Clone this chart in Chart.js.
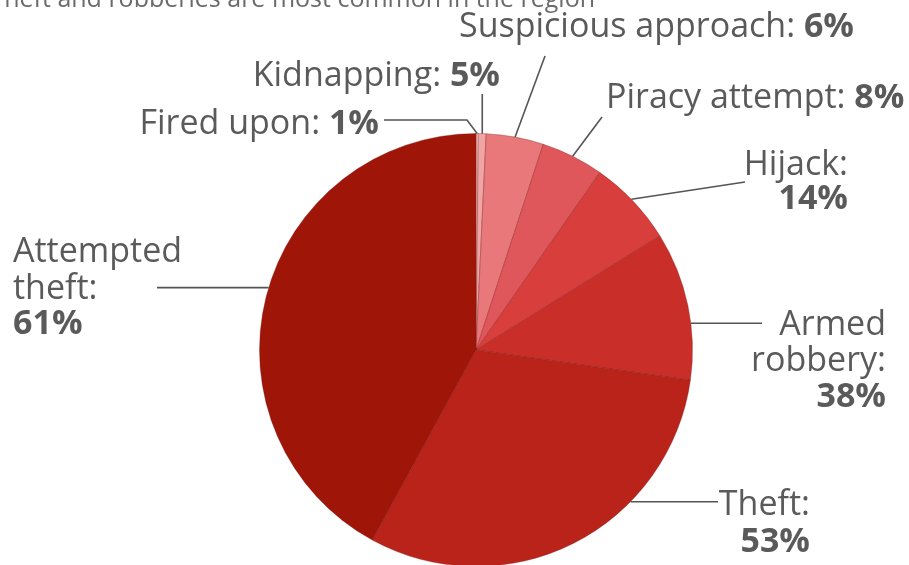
<!DOCTYPE html>
<html>
<head>
<meta charset="utf-8">
<script src="https://cdn.jsdelivr.net/npm/chart.js@4/dist/chart.umd.min.js"></script>
<style>
  html, body { margin: 0; padding: 0; background: #ffffff; overflow: hidden; }
  #wrap { position: relative; width: 909px; height: 565px; overflow: hidden; }
  canvas { display: block; }
</style>
</head>
<body>
<div id="wrap"><canvas id="c" width="909" height="620"></canvas></div>
<script>
// ---- data ----
const titleText = 'Theft and robberies are most common in the region';
const categories = ['Fired upon', 'Kidnapping', 'Suspicious approach', 'Piracy attempt',
                    'Hijack', 'Armed robbery', 'Theft', 'Attempted theft'];
// printed percentages on the labels
const labelPercents = [1, 5, 6, 8, 14, 38, 53, 61];
// share of the circle each slice occupies in the picture (%)
const sliceShares = [0.17, 0.58, 4.28, 4.67, 6.47, 11.06, 30.72, 42.05];
const sliceColors = ['#f5c6c4', '#f0a4a4', '#e87879', '#e0575b', '#d83e3c', '#c92f28', '#b9231a', '#9f1608'];

// ---- label layout (styles / positions) ----
const FONT = '"Open Sans", "Noto Sans", sans-serif';
const FS = 34;
const labelLayout = [
  { wrap: false, align: 'right', x: 379, y: [134], frac: 0.5, path: [[467, 120], [384, 120]] },
  { wrap: false, align: 'right', x: 500, y: [86], frac: 0.5, vertTo: 94 },
  { wrap: false, align: 'left', x: 459, y: [37], frac: 0.5, path: [[545, 56]] },
  { wrap: false, align: 'left', x: 606, y: [108], frac: 0.5, path: [[602, 117]] },
  { wrap: true, align: 'right', x: 848, y: [175, 209], frac: 0.47, path: [[745, 182]] },
  { wrap: true, align: 'right', x: 886, y: [335, 371, 407], frac: 0.62, horizTo: 762 },
  { wrap: true, align: 'right', x: 810, y: [515, 552], frac: 0.33, horizTo: 718 },
  { wrap: true, align: 'left', x: 13, y: [262, 299, 334], frac: 0.516, horizTo: 157 }
];

function buildLines(i) {
  const name = categories[i];
  const pct = labelPercents[i] + '%';
  if (!labelLayout[i].wrap) return [[{ t: name + ': ', b: false }, { t: pct, b: true }]];
  const words = name.split(' ');
  const lines = words.map((w, k) => [{ t: k === words.length - 1 ? w + ':' : w, b: false }]);
  lines.push([{ t: pct, b: true }]);
  return lines;
}

const labelPlugin = {
  id: 'pieLabels',
  afterDraw(chart) {
    const ctx = chart.ctx;
    const meta = chart.getDatasetMeta(0);
    ctx.save();
    // title (partially cut off at the top of the picture)
    ctx.font = '25px ' + FONT;
    ctx.fillStyle = '#6b6b6b';
    ctx.textAlign = 'right';
    ctx.textBaseline = 'alphabetic';
    ctx.fillText(titleText, 595, 7);

    meta.data.forEach((arc, i) => {
      const L = labelLayout[i];
      const p = arc.getProps(['x', 'y', 'startAngle', 'endAngle', 'outerRadius'], true);
      const a = p.startAngle + (p.endAngle - p.startAngle) * L.frac;
      const ex = p.x + Math.cos(a) * p.outerRadius;
      const ey = p.y + Math.sin(a) * p.outerRadius;
      ctx.beginPath();
      ctx.strokeStyle = '#555555';
      ctx.lineWidth = 1.6;
      ctx.moveTo(ex, ey);
      if (L.path) L.path.forEach(pt => ctx.lineTo(pt[0], pt[1]));
      if (L.horizTo !== undefined) ctx.lineTo(L.horizTo, ey);
      if (L.vertTo !== undefined) ctx.lineTo(ex, L.vertTo);
      ctx.stroke();

      const lines = buildLines(i);
      ctx.fillStyle = '#5a5a5a';
      ctx.textAlign = 'left';
      lines.forEach((parts, k) => {
        let w = 0;
        parts.forEach(pt => { ctx.font = (pt.b ? '700 ' : '400 ') + FS + 'px ' + FONT; w += ctx.measureText(pt.t).width; });
        let x = L.align === 'right' ? L.x - w : L.x;
        parts.forEach(pt => {
          ctx.font = (pt.b ? '700 ' : '400 ') + FS + 'px ' + FONT;
          ctx.fillText(pt.t, x, L.y[k]);
          x += ctx.measureText(pt.t).width;
        });
      });
    });
    ctx.restore();
  }
};

new Chart(document.getElementById('c'), {
  type: 'pie',
  data: {
    labels: categories,
    datasets: [{
      data: sliceShares,
      backgroundColor: sliceColors,
      borderColor: 'rgba(120, 20, 20, 0.35)',
      borderWidth: 1
    }]
  },
  options: {
    responsive: false,
    animation: false,
    layout: { padding: { left: 259, right: 216, top: 133, bottom: 53 } },
    plugins: { legend: { display: false }, tooltip: { enabled: false }, title: { display: false } }
  },
  plugins: [labelPlugin]
});
</script>
</body>
</html>
